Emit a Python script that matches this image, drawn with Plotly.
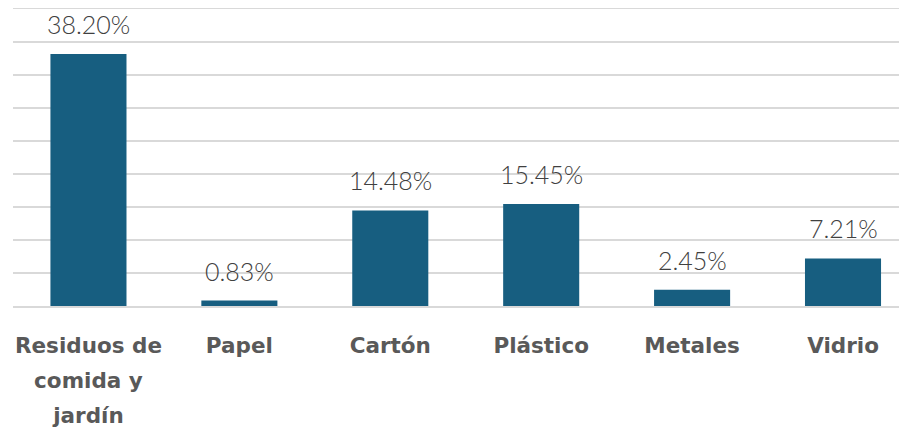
import plotly.graph_objects as go

categories = ["Residuos de comida y jardín", "Papel", "Cartón", "Plástico", "Metales", "Vidrio"]
tick_labels = [["Residuos de", "comida y", "jardín"], ["Papel"], ["Cartón"], ["Plástico"], ["Metales"], ["Vidrio"]]
values = [38.20, 0.83, 14.48, 15.45, 2.45, 7.21]

BAR = "#175e80"
GRID = "#d9d9d9"

def fmt_tick(lines):
    return "<br>".join(f"<span style='font-size:21.5px'>{l}</span>" for l in lines)

fig = go.Figure()
fig.add_trace(go.Bar(
    x=categories, y=values, marker=dict(color=BAR, line=dict(width=0)),
    hoverinfo="skip",
))

for c, v in zip(categories, values):
    fig.add_annotation(
        x=c, y=v, xref="x", yref="y", text=f"{v:.2f}%", showarrow=False,
        yanchor="bottom", yshift=13,
        font=dict(family="Lato", size=25, color="#404040", weight=300),
    )

# page body has an 8px default margin, so the figure is 8px smaller
fig.update_layout(
    width=899, height=422,
    margin=dict(l=5, r=0, t=1, b=124),
    paper_bgcolor="white", plot_bgcolor="white",
    bargap=0.496, showlegend=False,
    xaxis=dict(
        range=[-0.5, 5.424], tickmode="array", tickvals=categories,
        ticktext=[fmt_tick(t) for t in tick_labels],
        tickfont=dict(family="DejaVu Sans", size=27, color="#595959", weight=700),
        showgrid=False, zeroline=False, ticks="",
        showline=True, mirror=True, linecolor=GRID, linewidth=1.5,
        automargin=False, ticklabelstandoff=13,
    ),
    yaxis=dict(
        range=[0, 45], dtick=5,
        showticklabels=False, showgrid=True,
        gridcolor=GRID, gridwidth=1.5, zeroline=False, showline=False, ticks="",
        automargin=False,
    ),
)

fig.write_html("out.html")
